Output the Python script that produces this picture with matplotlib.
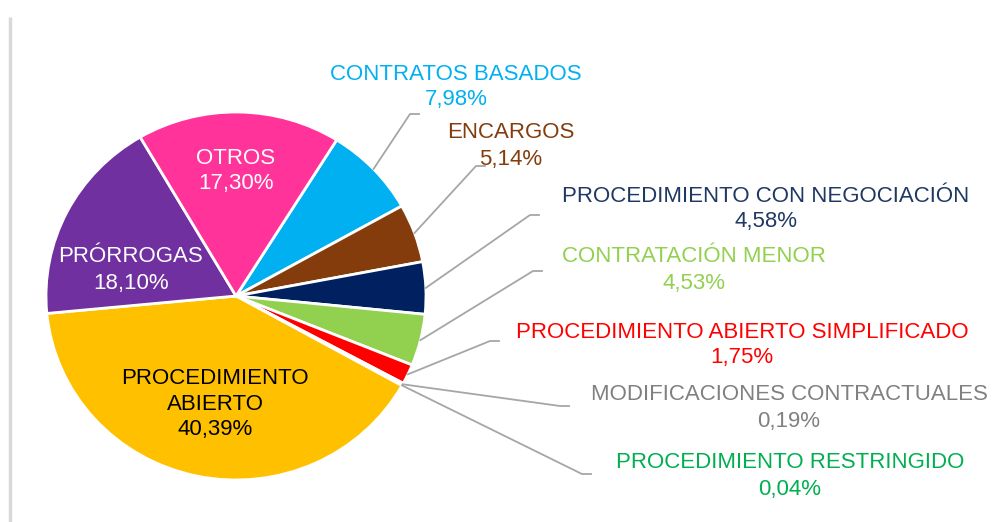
import numpy as np
import matplotlib
matplotlib.use("Agg")
import matplotlib.pyplot as plt

plt.rcParams['font.family'] = ['Liberation Sans', 'DejaVu Sans']

# slices, clockwise from the top-right
labels = ['CONTRATOS BASADOS', 'ENCARGOS', 'PROCEDIMIENTO CON NEGOCIACIÓN',
          'CONTRATACIÓN MENOR', 'PROCEDIMIENTO ABIERTO SIMPLIFICADO',
          'MODIFICACIONES CONTRACTUALES', 'PROCEDIMIENTO RESTRINGIDO',
          'PROCEDIMIENTO\nABIERTO', 'PRÓRROGAS', 'OTROS']
shares = [7.98, 5.14, 4.58, 4.53, 1.75, 0.19, 0.04, 40.39, 18.10, 17.30]
colors = ['#00B0F0', '#843C0C', '#002060', '#92D050', '#FF0000',
          '#7F7F7F', '#00B050', '#FFC000', '#7030A0', '#FF3399']
text_colors = ['#00B0F0', '#843C0C', '#1F3864', '#92D050', '#FF0000',
               '#808080', '#00B050', '#000000', '#FFFFFF', '#FFFFFF']

# label layout in pixels (x, y of first line), leader corner, inside or not
label_pos = [(456, 74), (511, 133), (766, 196), (694, 257), (742, 332),
             (789, 395), (790, 463), (215, 378), (131, 257), (236, 158)]
corners = [(410, 114), (476, 166), (530, 215), (533, 271), (490, 341),
           (560, 406), (582, 474), None, None, None]
line_gap = 26
fs = 16

fig = plt.figure(figsize=(9.98, 5.22), dpi=100)
ax = fig.add_axes([0, 0, 1, 1])
ax.set_xlim(0, 998)
ax.set_ylim(522, 0)
ax.axis('off')
ax.set_zorder(2)
ax.patch.set_visible(False)

# pie lives in its own box (slightly wider than tall, like the source)
W, H = 998, 522
px0, py0, px1, py1 = 46, 112, 426, 480
pax = fig.add_axes([px0 / W, 1 - py1 / H, (px1 - px0) / W, (py1 - py0) / H])
wedges, _ = pax.pie(shares, colors=colors, startangle=58, counterclock=False,
                    radius=1, wedgeprops=dict(edgecolor='white', linewidth=2))
pax.set_aspect('auto')
pax.set_xlim(-1, 1)
pax.set_ylim(-1, 1)
pax.axis('off')

# left border line
ax.plot([10, 10], [17, 522], color='#D9D9D9', lw=2.5, solid_capstyle='butt')

inv = ax.transData.inverted()
for i, w in enumerate(wedges):
    pct = f"{shares[i]:.2f}%".replace('.', ',')
    x, y = label_pos[i]
    nlines = labels[i].count('\n') + 1
    for k, line in enumerate(labels[i].split('\n')):
        ax.text(x, y + k * line_gap, line, ha='center', va='center',
                fontsize=fs, color=text_colors[i])
    ax.text(x, y + nlines * line_gap, pct, ha='center', va='center',
            fontsize=fs, color=text_colors[i])

    if corners[i] is not None:
        mid = np.deg2rad((w.theta1 + w.theta2) / 2)
        disp = pax.transData.transform((np.cos(mid), np.sin(mid)))
        sx, sy = inv.transform(disp)
        cx, cy = corners[i]
        ax.plot([sx, cx, cx + 9], [sy, cy, cy], color='#A6A6A6', lw=1.3)

fig.savefig('out.png', dpi=100, facecolor='white')
